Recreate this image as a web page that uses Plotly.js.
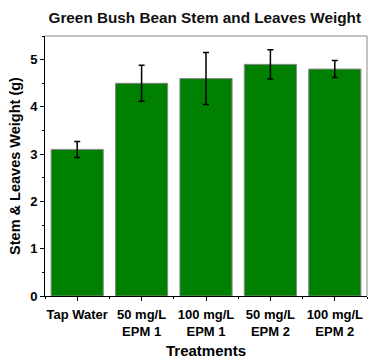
<!DOCTYPE html>
<html><head><meta charset="utf-8">
<script src="https://cdn.plot.ly/plotly-3.0.1.min.js"></script>
<style>html,body{margin:0;padding:0;background:#fff;}#chart{width:369px;height:359px;}</style>
</head><body><div id="chart"></div>
<script>
var categories = ["Tap Water", "50 mg/L<br>EPM 1", "100 mg/L<br>EPM 1", "50 mg/L<br>EPM 2", "100 mg/L<br>EPM 2"];
var weights = [3.1, 4.5, 4.6, 4.9, 4.8];
var errors = [0.17, 0.38, 0.55, 0.31, 0.18];
var positions = categories.map(function(c, i){ return i; });

var trace = {
  type: 'bar',
  x: positions,
  y: weights,
  marker: {color: '#008000', line: {color: '#888888', width: 1}},
  error_y: {type: 'data', array: errors, visible: true, color: '#000000', thickness: 1.5, width: 3},
  hoverinfo: 'none'
};

var layout = {
  width: 369, height: 359,
  margin: {l: 45, r: 2, t: 36, b: 63},
  paper_bgcolor: '#ffffff', plot_bgcolor: '#ffffff',
  bargap: 0.19,
  showlegend: false,
  font: {family: 'Liberation Sans, Arial, sans-serif', color: '#000000'},
  title: {text: '<b>Green Bush Bean Stem and Leaves Weight</b>', x: 0.555, xanchor: 'center', y: 0.95, yanchor: 'middle', font: {size: 15.3, color: '#111111'}},
  xaxis: {
    range: [-0.5, 4.5], tickmode: 'array', tickvals: positions,
    ticktext: categories.map(function(c){ return '<b>' + c + '</b>'; }),
    ticks: 'outside', ticklen: 4, tickwidth: 1, tickcolor: '#000',
    tickfont: {size: 13}, showgrid: false, zeroline: false, ticklabelstandoff: 2,
    showline: true, linecolor: '#000', linewidth: 1, mirror: false,
    minor: {ticks: 'outside', tickmode: 'linear', tick0: 0.5, dtick: 1, ticklen: 2, tickcolor: '#000'},
    title: {text: '<b>Treatments</b>', font: {size: 15}, standoff: 8}
  },
  yaxis: {
    range: [0, 5.5], dtick: 1, tick0: 0,
    ticks: 'outside', ticklen: 4, tickwidth: 1, tickcolor: '#000',
    tickfont: {size: 13}, showgrid: false, zeroline: false,
    showline: true, linecolor: '#000', linewidth: 1,
    tickprefix: '<b>', ticksuffix: '</b>',
    minor: {ticks: 'outside', dtick: 0.5, ticklen: 2, tickcolor: '#000'},
    title: {text: '<b>Stem & Leaves Weight (g)</b>', font: {size: 14.5}, standoff: 6}
  },
  shapes: [
    {type: 'line', xref: 'paper', yref: 'paper', x0: 0, x1: 1, y0: 1, y1: 1, line: {color: '#888888', width: 1}},
    {type: 'line', xref: 'paper', yref: 'paper', x0: 1, x1: 1, y0: 0, y1: 1, line: {color: '#888888', width: 1}}
  ]
};

Plotly.newPlot('chart', [trace], layout, {displayModeBar: false, staticPlot: true});
</script></body></html>
